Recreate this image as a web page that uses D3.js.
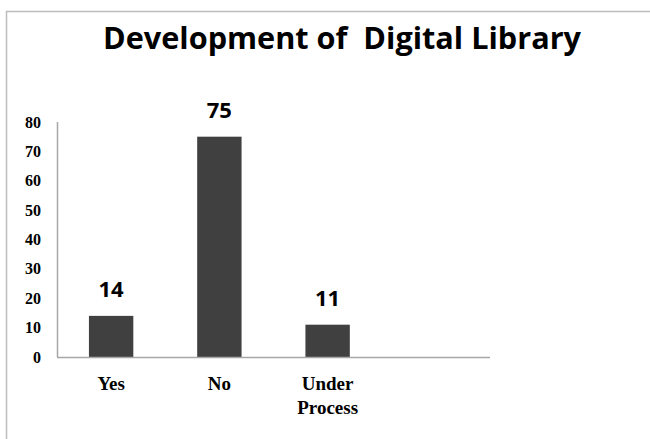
<!DOCTYPE html>
<meta charset="utf-8">
<head>
  <title>Development of Digital Library</title>
  <script src="https://d3js.org/d3.v7.min.js"></script>
  <style>
    body { margin: 0; background: #fff; }
    .tick-label { font-family: "Liberation Serif", "Times New Roman", serif; font-weight: bold; font-size: 16px; }
    .cat-label { font-family: "Liberation Serif", "Times New Roman", serif; font-weight: bold; font-size: 19px; }
    .val-label { font-family: "Open Sans", "Liberation Sans", sans-serif; font-weight: bold; font-size: 22px; }
    .title { font-family: "Open Sans", "Liberation Sans", sans-serif; font-weight: bold; font-size: 30px; }
  </style>
</head>
<body>
  <svg id="chart" width="650" height="439"></svg>
  <script>
    // data
    var categories = ["Yes", "No", "Under Process"];
    var values = [14, 75, 11];
    var yTicks = [0, 10, 20, 30, 40, 50, 60, 70, 80];

    var svg = d3.select("#chart");

    // outer frame
    svg.append("rect")
      .attr("x", 6.5).attr("y", 11.5)
      .attr("width", 700).attr("height", 500)
      .attr("fill", "none")
      .attr("stroke", "#bdbdbd")
      .attr("stroke-width", 1.5);

    svg.append("text")
      .attr("class", "title")
      .attr("x", 103).attr("y", 49)
      .attr("xml:space", "preserve")
      .attr("textLength", 478)
      .attr("lengthAdjust", "spacingAndGlyphs")
      .text("Development of  Digital Library");

    var plotLeft = 57, plotRight = 490, plotTop = 122, plotBottom = 357;

    // one empty slot after the last category, like the original
    var x = d3.scaleBand()
      .domain(categories.concat([""]))
      .range([plotLeft, plotRight])
      .paddingInner(0.59)
      .paddingOuter(0.295);

    var y = d3.scaleLinear().domain([0, 80]).range([plotBottom, plotTop]);

    // y axis line
    svg.append("line")
      .attr("x1", plotLeft + 0.5).attr("x2", plotLeft + 0.5)
      .attr("y1", y(80)).attr("y2", plotBottom)
      .attr("stroke", "#a6a6a6").attr("stroke-width", 1.5);

    svg.selectAll(".tick-label")
      .data(yTicks)
      .enter().append("text")
      .attr("class", "tick-label")
      .attr("x", 41)
      .attr("y", function(d) { return y(d); })
      .attr("dy", "0.35em")
      .attr("text-anchor", "end")
      .text(function(d) { return d; });

    svg.selectAll(".bar")
      .data(values)
      .enter().append("rect")
      .attr("class", "bar")
      .attr("x", function(d, i) { return x(categories[i]); })
      .attr("y", function(d) { return y(d); })
      .attr("width", x.bandwidth())
      .attr("height", function(d) { return plotBottom - y(d); })
      .attr("fill", "#404040");

    svg.selectAll(".val-label")
      .data(values)
      .enter().append("text")
      .attr("class", "val-label")
      .attr("x", function(d, i) { return x(categories[i]) + x.bandwidth() / 2; })
      .attr("y", function(d) { return y(d) - 19; })
      .attr("text-anchor", "middle")
      .text(function(d) { return d; });

    // x axis line
    svg.append("line")
      .attr("x1", plotLeft).attr("x2", plotRight)
      .attr("y1", plotBottom + 0.5).attr("y2", plotBottom + 0.5)
      .attr("stroke", "#a6a6a6").attr("stroke-width", 1.5);

    categories.forEach(function(c) {
      var cx = x(c) + x.bandwidth() / 2;
      var t = svg.append("text")
        .attr("class", "cat-label")
        .attr("x", cx)
        .attr("y", 390)
        .attr("text-anchor", "middle");
      c.split(" ").forEach(function(w, j) {
        t.append("tspan")
          .attr("x", cx)
          .attr("dy", j === 0 ? 0 : 24)
          .text(w);
      });
    });
  </script>
</body>
</html>
